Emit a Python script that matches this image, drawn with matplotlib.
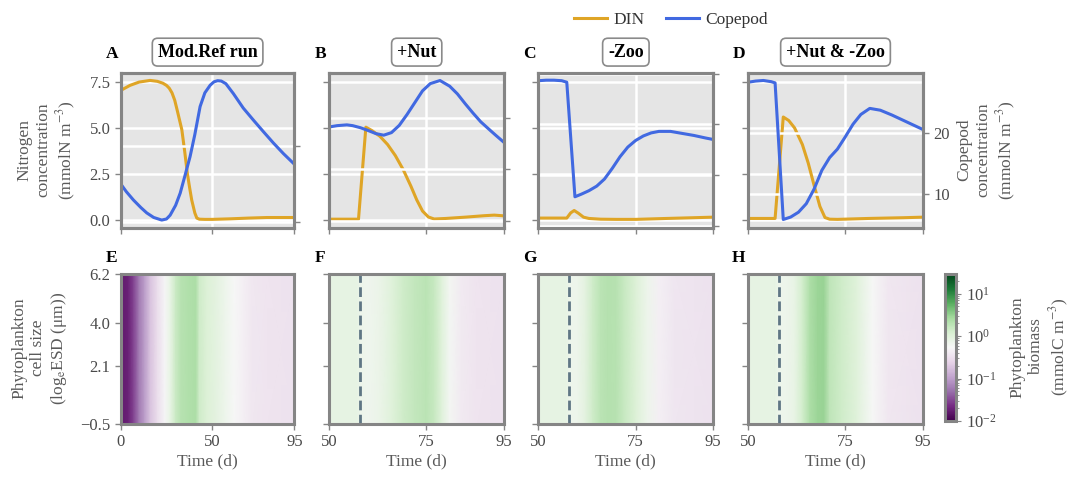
import numpy as np
import matplotlib
matplotlib.use("Agg")
import matplotlib.pyplot as plt
from matplotlib.colors import LogNorm
from matplotlib.ticker import MultipleLocator
from matplotlib.lines import Line2D

plt.rcParams['font.family'] = ['Liberation Serif', 'DejaVu Serif']
plt.rcParams['mathtext.fontset'] = 'stix'

# ---------------- data ----------------
# A: reference run (days 0-95)
ref_din_day = [0, 5, 10, 16, 20, 23, 25, 26.5, 28, 29.5, 31, 33.4, 35, 36.4, 37.6, 38.8, 40.5, 41.6, 43, 46, 50, 60, 70, 80, 90, 95]
ref_din = [7.03, 7.3, 7.48, 7.57, 7.52, 7.42, 7.3, 7.15, 6.9, 6.5, 5.9, 4.9, 3.7, 2.55, 1.8, 1.1, 0.4, 0.12, 0.06, 0.05, 0.05, 0.08, 0.12, 0.15, 0.15, 0.15]
ref_cop_day = [0, 3, 6.9, 11, 14.2, 18, 22.4, 25, 27, 30, 32.5, 35, 37.9, 40.5, 43.4, 46, 48.9, 51, 53, 55, 57.5, 61.6, 67, 72.6, 78, 83.5, 89, 95]
ref_cop = [15.0, 14.0, 12.9, 11.9, 11.2, 10.6, 10.26, 10.4, 10.9, 12.2, 13.8, 16.0, 18.6, 21.5, 25.2, 27.0, 28.0, 28.45, 28.6, 28.55, 28.2, 26.9, 25.0, 23.4, 21.9, 20.4, 19.0, 17.6]

# B: +Nut (days 50-95)
nut_din_day = [50, 55, 57.5, 59.4, 61, 63, 65, 67, 69, 71, 72.5, 74, 75.5, 77, 80, 85, 90, 92.5, 95]
nut_din = [0.06, 0.06, 0.06, 5.04, 4.85, 4.55, 4.1, 3.5, 2.75, 1.85, 1.11, 0.5, 0.18, 0.07, 0.1, 0.17, 0.25, 0.28, 0.24]
nut_cop_day = [50, 52, 54.5, 56, 58, 60, 62, 64, 66, 68, 70, 72, 74, 76, 78.5, 81, 83, 85, 87, 89, 91.5, 93, 95]
nut_cop = [28.2, 28.45, 28.6, 28.45, 28.05, 27.5, 26.9, 26.6, 27.1, 28.5, 30.6, 32.9, 35.2, 36.6, 37.2, 36.1, 34.6, 32.7, 30.9, 29.2, 27.5, 26.5, 25.2]

# C: -Zoo
zoo_din_day = [50, 55, 57.3, 58.3, 59.2, 60.3, 61.6, 63, 66, 70, 75, 83, 90, 95]
zoo_din = [0.12, 0.12, 0.12, 0.4, 0.53, 0.38, 0.17, 0.1, 0.06, 0.05, 0.05, 0.1, 0.14, 0.17]
zoo_cop_day = [50, 52, 54, 56, 57.3, 59.4, 61, 63, 65, 67, 69, 71, 73, 75, 77, 79, 81, 84, 87, 90, 93, 95]
zoo_cop = [28.6, 28.7, 28.7, 28.6, 28.3, 5.7, 6.2, 6.9, 7.8, 9.2, 11.3, 13.6, 15.5, 16.8, 17.7, 18.3, 18.6, 18.6, 18.2, 17.8, 17.3, 17.0]

# D: +Nut & -Zoo
both_din_day = [50, 55, 57, 59.1, 60.5, 62, 64, 65.5, 67, 68.5, 69.8, 71, 73, 81, 90, 95]
both_din = [0.1, 0.1, 0.1, 5.59, 5.4, 5.0, 4.1, 3.1, 1.9, 0.75, 0.15, 0.06, 0.05, 0.1, 0.14, 0.17]
both_cop_day = [50, 52, 54, 56, 57, 59.1, 61, 63, 65, 67, 69, 71, 73, 75, 77, 79, 81.3, 84, 87, 90, 93, 95]
both_cop = [28.4, 28.6, 28.7, 28.5, 28.3, 5.8, 6.2, 7.0, 8.4, 10.8, 13.9, 16.0, 17.4, 19.4, 21.5, 23.1, 24.1, 23.8, 23.0, 22.1, 21.2, 20.6]

# phytoplankton biomass (mmolC m-3) over time, same across cell-size classes
ref_phy_day = [0, 4, 7, 10, 13, 16, 20, 24, 27, 30, 33, 37, 41, 43, 47, 52, 57, 62, 67, 72, 80, 95]
ref_phy = [0.016, 0.019, 0.03, 0.06, 0.1, 0.18, 0.3, 0.5, 0.8, 1.5, 2.0, 2.2, 2.4, 1.4, 1.1, 0.9, 0.7, 0.55, 0.45, 0.38, 0.35, 0.33]
nut_phy_day = [50, 54, 57, 58, 60, 63, 66, 69, 72, 75, 77, 79, 81, 84, 88, 95]
nut_phy = [0.85, 0.85, 0.85, 0.7, 0.65, 0.75, 1.0, 1.4, 1.7, 1.9, 1.6, 1.0, 0.6, 0.4, 0.35, 0.33]
zoo_phy_day = [50, 54, 57, 58, 60, 62, 64, 66, 68, 70, 72, 75, 78, 81, 85, 95]
zoo_phy = [0.85, 0.85, 0.85, 0.7, 0.7, 0.9, 1.4, 1.9, 2.1, 2.0, 1.6, 1.1, 0.7, 0.45, 0.37, 0.33]
both_phy_day = [50, 54, 57, 58, 60, 62, 64, 66, 68, 69.5, 71, 74, 78, 82, 86, 95]
both_phy = [0.85, 0.85, 0.85, 0.7, 0.7, 0.8, 1.3, 2.4, 2.9, 3.0, 1.8, 1.4, 1.0, 0.55, 0.38, 0.33]

cell_size_range = [-0.5, 6.2]
size_ticks = [-0.5, 2.1, 4.0, 6.2]
intervention_day = 58

titles = ['Mod.Ref run', '+Nut', '-Zoo', '+Nut & -Zoo']
top_letters = ['A', 'B', 'C', 'D']
bot_letters = ['E', 'F', 'G', 'H']
xlims = [(0, 95), (50, 95), (50, 95), (50, 95)]
xticks = [[0, 50, 95], [50, 75, 95], [50, 75, 95], [50, 75, 95]]
cop_ylims = [(9.28, 29.57), (8.7, 38.6), (-0.36, 30.06), (4.48, 29.88)]

din_sets = [(ref_din_day, ref_din), (nut_din_day, nut_din), (zoo_din_day, zoo_din), (both_din_day, both_din)]
cop_sets = [(ref_cop_day, ref_cop), (nut_cop_day, nut_cop), (zoo_cop_day, zoo_cop), (both_cop_day, both_cop)]
phy_sets = [(ref_phy_day, ref_phy), (nut_phy_day, nut_phy), (zoo_phy_day, zoo_phy), (both_phy_day, both_phy)]

# ---------------- style ----------------
DIN_C = '#dfa526'
COP_C = '#4169e1'
SPINE_C = '#858585'
TICKLAB_C = '#4a4a4a'
LAB_C = '#5a5a5a'
W, H = 1073, 478

fig = plt.figure(figsize=(W / 100, H / 100), dpi=100)

lefts = [120.8, 329.4, 538.4, 747.8]
rights = [294.4, 504.0, 713.3, 923.2]
top_y = (73.3, 227.5)
bot_y = (273.5, 424.0)

def fax(l, r, t, b):
    return fig.add_axes([l / W, 1 - b / H, (r - l) / W, (b - t) / H])

def style_spines(ax):
    for s in ax.spines.values():
        s.set_color(SPINE_C)
        s.set_linewidth(2.2)
    ax.tick_params(colors=SPINE_C, labelcolor=TICKLAB_C, labelsize=12, length=4, width=1)

norm = LogNorm(vmin=0.01, vmax=29)
mesh = None
for i in range(4):
    ax = fax(lefts[i], rights[i], *top_y)
    ax.set_facecolor('#e5e5e5')
    ax.set_axisbelow(True)
    ax.grid(True, color='white', lw=1.8)
    d, v = din_sets[i]
    ax.plot(d, v, color=DIN_C, lw=2.2)
    ax.set_xlim(*xlims[i])
    ax.set_xticks(xticks[i])
    ax.set_ylim(-0.39, 7.955)
    ax.yaxis.set_major_locator(MultipleLocator(2.5))
    style_spines(ax)
    ax.tick_params(labelbottom=False, labelleft=(i == 0))
    ax2 = ax.twinx()
    ax2.set_axisbelow(True)
    ax2.grid(True, axis='y', color='white', lw=1.8)
    d, v = cop_sets[i]
    ax2.plot(d, v, color=COP_C, lw=2.2)
    ax2.set_ylim(*cop_ylims[i])
    ax2.yaxis.set_major_locator(MultipleLocator(10))
    style_spines(ax2)
    ax2.tick_params(labelright=(i == 3))
    ax.set_title(titles[i], fontsize=13, fontweight='bold', pad=12,
                 bbox=dict(boxstyle='round,pad=0.3', fc='white', ec='#8a8a8a', lw=1.2))
    fig.text((lefts[i] - 9) / W, 1 - 54 / H, top_letters[i], fontsize=12.5, fontweight='bold',
             ha='center', va='center')

    # bottom row
    bx = fax(lefts[i], rights[i], *bot_y)
    d, v = phy_sets[i]
    vals = np.array(v)
    C = np.vstack([vals, vals])
    mesh = bx.pcolormesh(np.array(d), np.array(cell_size_range), C, cmap='PRGn', norm=norm,
                         shading='gouraud')
    if i > 0:
        bx.axvline(intervention_day, color='#5f7684', lw=2.0, ls=(0, (3.5, 1.6)))
    bx.set_xlim(*xlims[i])
    bx.set_ylim(*cell_size_range)
    bx.set_xticks(xticks[i])
    bx.set_yticks(size_ticks)
    style_spines(bx)
    bx.tick_params(labelleft=(i == 0))
    bx.set_xlabel('Time (d)', fontsize=12.5, color=LAB_C, labelpad=2)
    fig.text((lefts[i] - 9) / W, 1 - 258 / H, bot_letters[i], fontsize=12.5, fontweight='bold',
             ha='center', va='center')

# colorbar
cax = fig.add_axes([945 / W, 1 - 421 / H, 11 / W, (421 - 274) / H])
cb = fig.colorbar(mesh, cax=cax)
cb.outline.set_edgecolor(SPINE_C)
cb.outline.set_linewidth(2.2)
cax.tick_params(which='both', colors=SPINE_C, labelcolor=TICKLAB_C, labelsize=12)

# axis labels
lab_kw = dict(rotation=90, ha='center', va='center', multialignment='center', fontsize=12.5, color=LAB_C)
fig.text(47 / W, 1 - 150 / H, 'Nitrogen\nconcentration\n(mmolN m$^{-3}$)', **lab_kw)
fig.text(987 / W, 1 - 150 / H, 'Copepod\nconcentration\n(mmolN m$^{-3}$)', **lab_kw)
fig.text(40 / W, 1 - 348 / H, 'Phytoplankton\ncell size\n(log$_\\mathrm{e}$ESD (μm))', **lab_kw)
fig.text(1040 / W, 1 - 347 / H, 'Phytoplankton\nbiomass\n(mmolC m$^{-3}$)', **lab_kw)

handles = [Line2D([], [], color=DIN_C, lw=2.2), Line2D([], [], color=COP_C, lw=2.2)]
fig.legend(handles, ['DIN', 'Copepod'], loc='center', bbox_to_anchor=(671 / W, 1 - 20 / H),
           ncol=2, frameon=False, fontsize=12.5, handlelength=1.9, handletextpad=0.4,
           columnspacing=1.2, labelcolor='#333333')

fig.savefig('out.png', dpi=100)
